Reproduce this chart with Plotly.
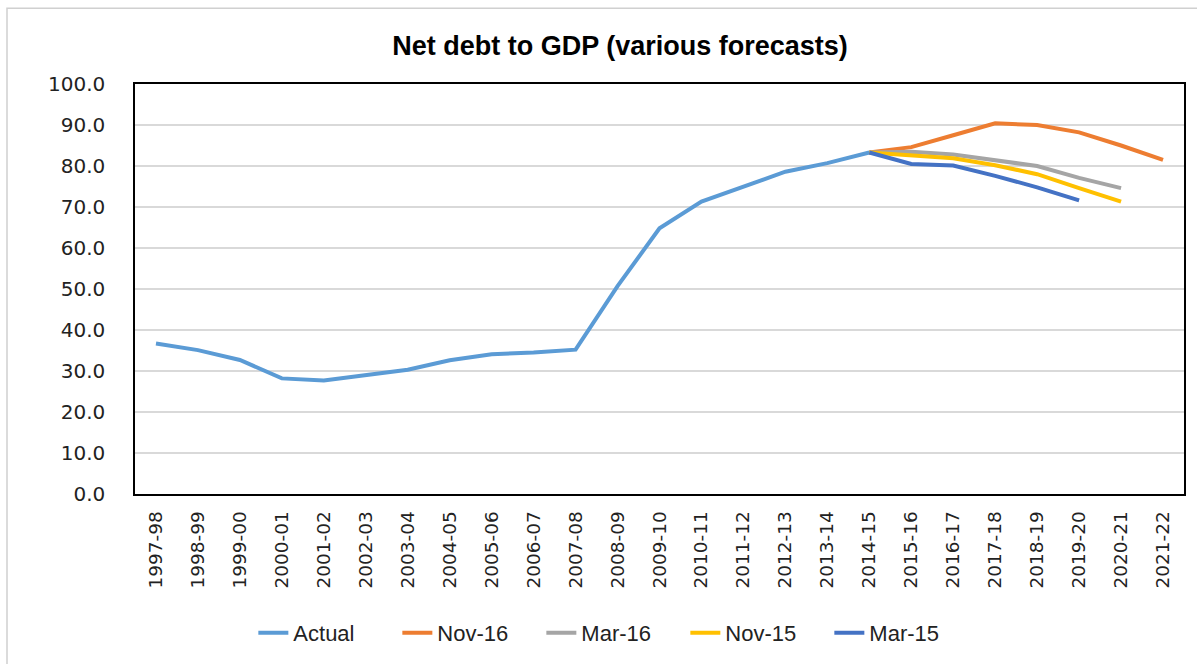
import plotly.graph_objects as go

years = ["1997-98", "1998-99", "1999-00", "2000-01", "2001-02", "2002-03",
         "2003-04", "2004-05", "2005-06", "2006-07", "2007-08", "2008-09",
         "2009-10", "2010-11", "2011-12", "2012-13", "2013-14", "2014-15",
         "2015-16", "2016-17", "2017-18", "2018-19", "2019-20", "2020-21",
         "2021-22"]

actual = [36.7, 35.1, 32.7, 28.2, 27.7, 29.0, 30.3, 32.6, 34.1, 34.5, 35.2,
          50.7, 64.8, 71.3, 75.0, 78.6, 80.7, 83.3]

pad = [None] * 17
nov16 = pad + [83.3, 84.6, 87.5, 90.4, 90.0, 88.2, 85.0, 81.5]
mar16 = pad + [83.3, 83.5, 82.8, 81.3, 80.0, 77.1, 74.6]
nov15 = pad + [83.3, 82.5, 81.9, 80.2, 78.0, 74.6, 71.3]
mar15 = pad + [83.3, 80.5, 80.1, 77.6, 74.8, 71.6]

series = [
    ("Actual", actual, "#5B9BD5"),
    ("Nov-16", nov16, "#ED7D31"),
    ("Mar-16", mar16, "#A5A5A5"),
    ("Nov-15", nov15, "#FFC000"),
    ("Mar-15", mar15, "#4472C4"),
]

fig = go.Figure()
for name, vals, color in series:
    fig.add_trace(go.Scatter(
        x=years[:len(vals)], y=vals, name=name, mode="lines",
        line=dict(color=color, width=4), connectgaps=False,
    ))

L, R, T, B = 135, 13, 84, 169
W, H = 1197, 664
pw, ph = W - L - R, H - T - B

fig.update_layout(
    width=W, height=H,
    margin=dict(l=L, r=R, t=T, b=B),
    paper_bgcolor="white", plot_bgcolor="white",
    title=dict(text="Net debt to GDP (various forecasts)",
               font=dict(family="Liberation Sans, Arial, sans-serif",
                         size=27, color="#000000", weight="bold"),
               x=0.518, xanchor="center", y=1 - 46 / H, yanchor="middle"),
    xaxis=dict(type="category", categoryorder="array", categoryarray=years,
               range=[-0.5, len(years) - 0.5], tickangle=-90,
               showgrid=False, showline=True, linecolor="#000000", linewidth=1.5,
               mirror=True, ticks="", ticklabelstandoff=8,
               tickfont=dict(family="DejaVu Sans, sans-serif", size=18.5, color="#222222")),
    yaxis=dict(range=[0, 100], dtick=10, tickformat=".1f",
               showgrid=True, gridcolor="#D9D9D9", gridwidth=1.5,
               showline=True, linecolor="#000000", linewidth=1.5, mirror=True,
               zeroline=False, ticks="", ticklabelstandoff=24,
               tickfont=dict(family="DejaVu Sans, sans-serif", size=20, color="#222222")),
    legend=dict(orientation="h", x=0.456, xanchor="center", y=-(633 - 495) / ph,
                yanchor="middle", traceorder="normal",
                font=dict(family="Liberation Sans, Arial, sans-serif",
                          size=22, color="#222222"),
                entrywidth=99, entrywidthmode="pixels"),
    showlegend=True,
)

# light outer frame of the chart area
fig.add_shape(type="rect", xref="paper", yref="paper",
              x0=(7 - L) / pw, x1=(W + 5 - L) / pw,
              y0=-(H + 5 - T - ph) / ph, y1=1 + (T - 8) / ph,
              line=dict(color="#D0D0D0", width=1.5), fillcolor="rgba(0,0,0,0)",
              layer="below")

fig.write_html("out.html")
